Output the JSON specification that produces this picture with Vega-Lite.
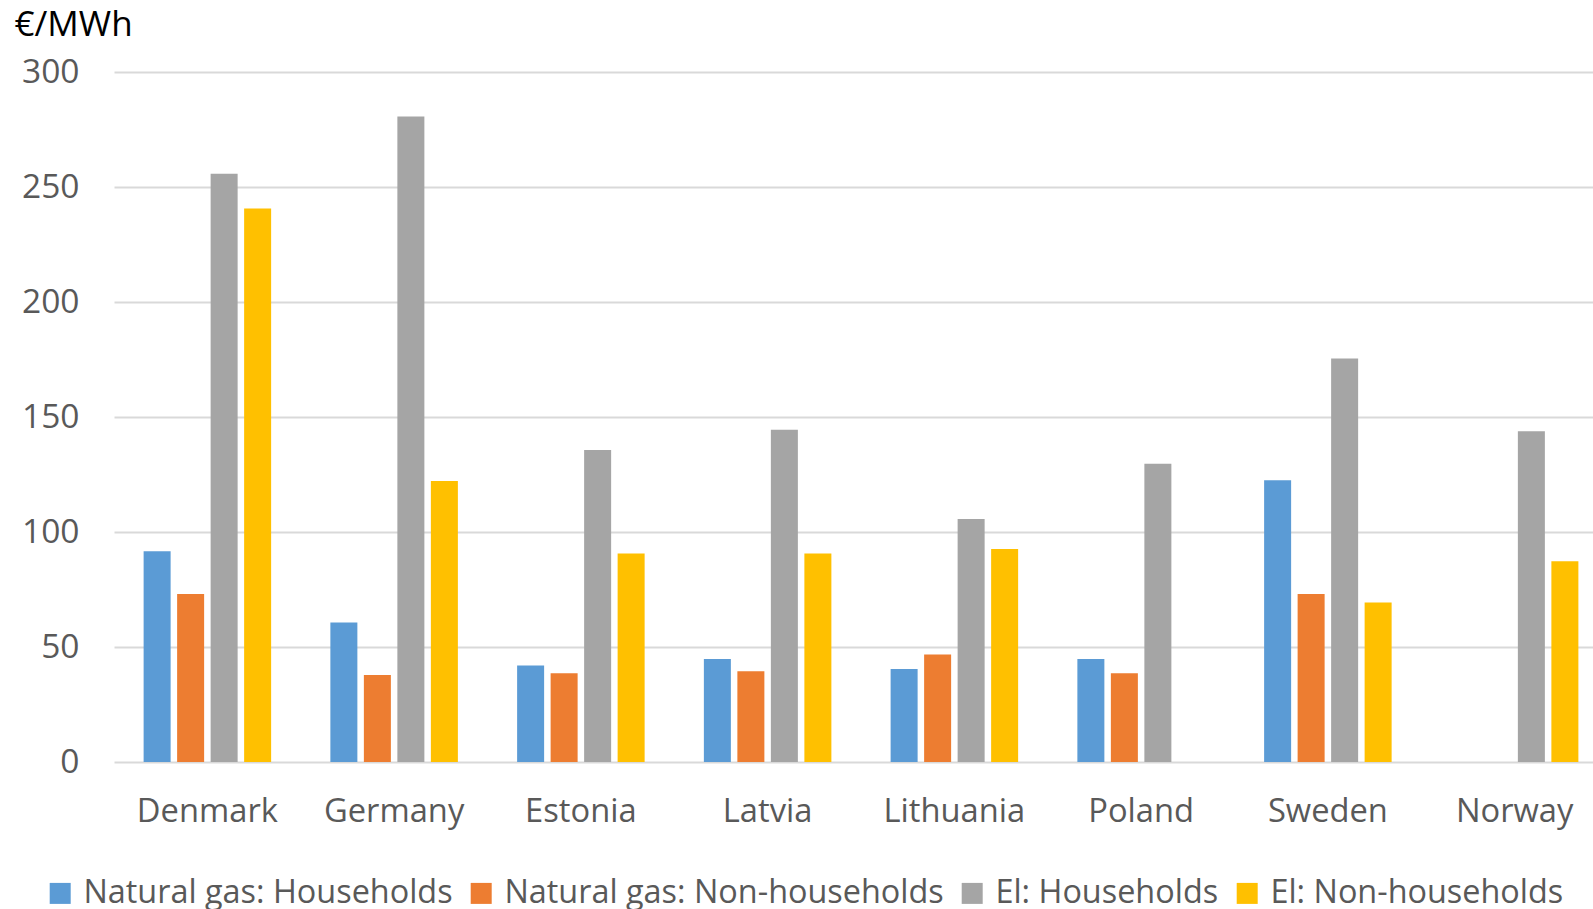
{
  "$schema": "https://vega.github.io/schema/vega-lite/v6.json",
  "width": 1479,
  "height": 690,
  "autosize": {"type": "none"},
  "padding": {"left": 114, "top": 72, "right": 0, "bottom": 147},
  "background": "white",
  "config": {"view": {"stroke": null}, "font": "Open Sans"},
  "data": {
    "values": [
      {"country": "Denmark", "series": "Natural gas: Households", "value": 91.6},
      {"country": "Denmark", "series": "Natural gas: Non-households", "value": 73.0},
      {"country": "Denmark", "series": "El: Households", "value": 255.8},
      {"country": "Denmark", "series": "El: Non-households", "value": 240.7},
      {"country": "Germany", "series": "Natural gas: Households", "value": 60.6},
      {"country": "Germany", "series": "Natural gas: Non-households", "value": 37.8},
      {"country": "Germany", "series": "El: Households", "value": 280.6},
      {"country": "Germany", "series": "El: Non-households", "value": 122.2},
      {"country": "Estonia", "series": "Natural gas: Households", "value": 42.0},
      {"country": "Estonia", "series": "Natural gas: Non-households", "value": 38.6},
      {"country": "Estonia", "series": "El: Households", "value": 135.6},
      {"country": "Estonia", "series": "El: Non-households", "value": 90.7},
      {"country": "Latvia", "series": "Natural gas: Households", "value": 44.8},
      {"country": "Latvia", "series": "Natural gas: Non-households", "value": 39.5},
      {"country": "Latvia", "series": "El: Households", "value": 144.5},
      {"country": "Latvia", "series": "El: Non-households", "value": 90.7},
      {"country": "Lithuania", "series": "Natural gas: Households", "value": 40.4},
      {"country": "Lithuania", "series": "Natural gas: Non-households", "value": 46.7},
      {"country": "Lithuania", "series": "El: Households", "value": 105.6},
      {"country": "Lithuania", "series": "El: Non-households", "value": 92.6},
      {"country": "Poland", "series": "Natural gas: Households", "value": 44.8},
      {"country": "Poland", "series": "Natural gas: Non-households", "value": 38.6},
      {"country": "Poland", "series": "El: Households", "value": 129.7},
      {"country": "Sweden", "series": "Natural gas: Households", "value": 122.5},
      {"country": "Sweden", "series": "Natural gas: Non-households", "value": 73.0},
      {"country": "Sweden", "series": "El: Households", "value": 175.4},
      {"country": "Sweden", "series": "El: Non-households", "value": 69.4},
      {"country": "Norway", "series": "El: Households", "value": 143.8},
      {"country": "Norway", "series": "El: Non-households", "value": 87.3}
    ]
  },
  "mark": {"type": "bar"},
  "encoding": {
    "x": {
      "field": "country",
      "type": "nominal",
      "sort": ["Denmark", "Germany", "Estonia", "Latvia", "Lithuania", "Poland", "Sweden", "Norway"],
      "scale": {"range": [0, 1494], "paddingInner": 0, "paddingOuter": 0},
      "axis": {
        "title": null,
        "labelAngle": 0,
        "labelFontSize": 32.7,
        "labelColor": "#595959",
        "labelBaseline": "alphabetic",
        "labelPadding": 59,
        "domain": false,
        "ticks": false,
        "tickSize": 0,
        "grid": false
      }
    },
    "xOffset": {
      "field": "series",
      "type": "nominal",
      "sort": ["Natural gas: Households", "Natural gas: Non-households", "El: Households", "El: Non-households"],
      "scale": {"paddingInner": 0.194, "paddingOuter": 0.884}
    },
    "y": {
      "field": "value",
      "type": "quantitative",
      "scale": {"domain": [0, 300], "nice": false},
      "axis": {
        "title": "€/MWh",
        "titleAngle": 0,
        "titleAlign": "left",
        "titleBaseline": "alphabetic",
        "titleX": -100,
        "titleY": -37,
        "titleFontSize": 35,
        "titleFontWeight": "normal",
        "titleColor": "#000000",
        "values": [0, 50, 100, 150, 200, 250, 300],
        "labelFontSize": 33.5,
        "labelColor": "#595959",
        "labelPadding": 35,
        "domain": false,
        "ticks": false,
        "tickSize": 0,
        "grid": true,
        "gridColor": "#d9d9d9",
        "gridWidth": 2
      }
    },
    "color": {
      "field": "series",
      "type": "nominal",
      "scale": {
        "domain": ["Natural gas: Households", "Natural gas: Non-households", "El: Households", "El: Non-households"],
        "range": ["#5B9BD5", "#ED7D31", "#A5A5A5", "#FFC000"]
      },
      "legend": {
        "orient": "none",
        "legendX": -70,
        "legendY": 805,
        "direction": "horizontal",
        "columns": 4,
        "title": null,
        "padding": 0,
        "symbolType": "square",
        "symbolSize": 441,
        "symbolStrokeWidth": 0,
        "labelFontSize": 32.4,
        "labelColor": "#595959",
        "labelOffset": 7,
        "columnPadding": 12,
        "labelLimit": 0
      }
    }
  }
}
